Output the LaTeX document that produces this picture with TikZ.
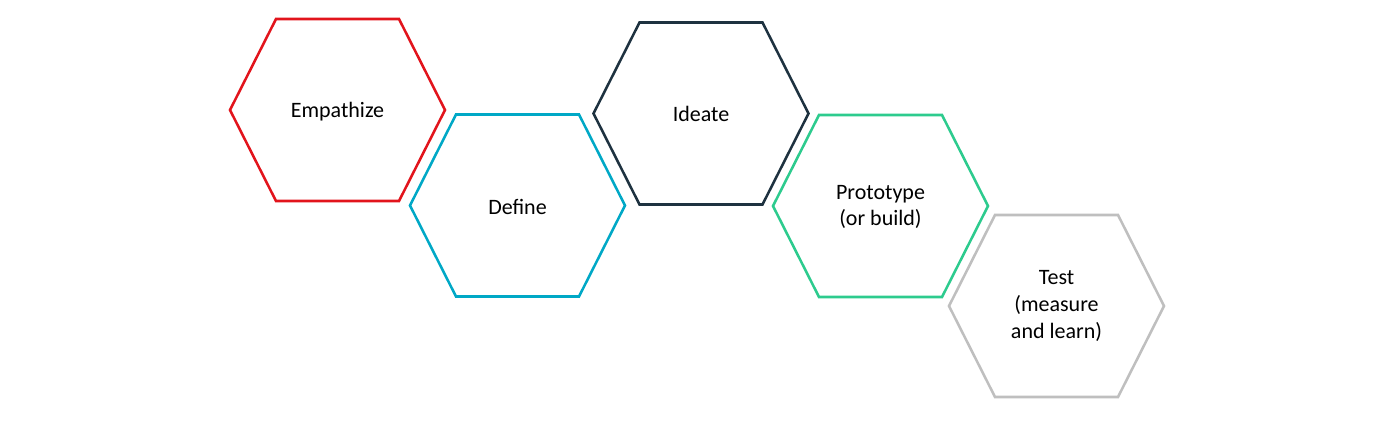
\documentclass[tikz,border=0pt]{standalone}
\usepackage{fontspec}
\setmainfont{Carlito}
\definecolor{cred}{HTML}{E2141C}
\definecolor{cteal}{HTML}{00A8C6}
\definecolor{cdark}{HTML}{1E3240}
\definecolor{cgreen}{HTML}{2DCB8E}
\definecolor{cgray}{HTML}{BFBFBF}
\tikzset{lbl/.style={align=center,font=\fontsize{16.5}{20}\selectfont}}
\newcommand{\hexat}[2]{\draw[line width=1.9pt,#2] ($(#1)+(-107.5,0)$) -- ($(#1)+(-61.5,-91)$) -- ($(#1)+(61.5,-91)$) -- ($(#1)+(107.5,0)$) -- ($(#1)+(61.5,91)$) -- ($(#1)+(-61.5,91)$) -- cycle;}
\usetikzlibrary{calc}
\begin{document}
\begin{tikzpicture}[x=0.75pt,y=-0.75pt]
\useasboundingbox (0,0) rectangle (1393,423);
\node[lbl] (emp) at (337.5,112) {Empathize};
\node[lbl] (def) at (517.5,207) {Define};
\node[lbl] (ide) at (701,114) {Ideate};
\node[lbl] (pro) at (880.5,207) {Prototype\\(or build)};
\node[lbl] (tst) at (1056.5,306) {Test\\(measure\\and learn)};
\hexat{337.5,110}{cred}
\hexat{517.5,205.5}{cteal}
\hexat{701,113.5}{cdark}
\hexat{880.5,206}{cgreen}
\hexat{1056.5,306}{cgray}
\end{tikzpicture}
\end{document}
